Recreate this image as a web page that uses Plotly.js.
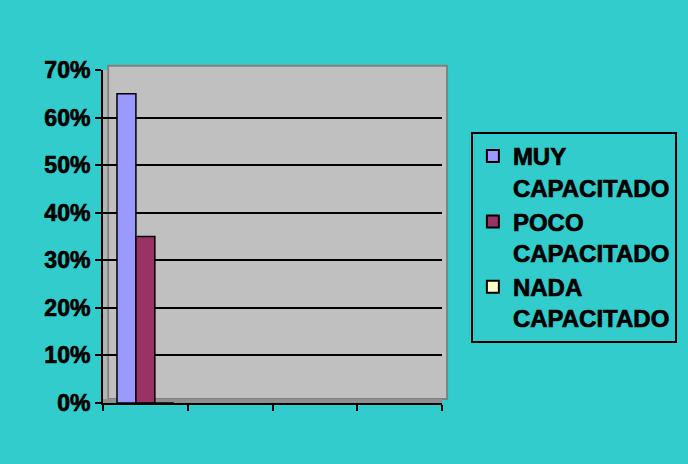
<!DOCTYPE html>
<html><head><meta charset="utf-8">
<script src="https://cdn.plot.ly/plotly-3.0.1.min.js"></script>
<style>
html,body{margin:0;padding:0;background:#33CCCC;}#chart{width:688px;height:464px;}
#chart .legendtext, #chart .ytick text { stroke:#000; stroke-width:0.7px; }
</style>
</head><body><div id="chart"></div>
<script>
const categories = ["1", "2", "3", "4"];
const seriesNames = ["MUY<br>CAPACITADO", "POCO<br>CAPACITADO", "NADA<br>CAPACITADO"];
const muyValues = [0.65, null, null, null];
const pocoValues = [0.35, null, null, null];
const nadaValues = [0.0, null, null, null];
const tickValues = [0, 0.1, 0.2, 0.3, 0.4, 0.5, 0.6, 0.7];
const tickLabels = ["0%", "10%", "20%", "30%", "40%", "50%", "60%", "70%"];

const colors = ["#9999FF", "#993366", "#FFFFCC"];
const seriesValues = [muyValues, pocoValues, nadaValues];
const traces = seriesValues.map((v, i) => ({
  type: "bar", x: categories, y: v, name: seriesNames[i],
  marker: {color: colors[i], line: {color: "#000000", width: 1.5}},
  hoverinfo: "skip"
}));

const FONT = "Liberation Sans, Arial, sans-serif";
const layout = {
  width: 688, height: 464,
  paper_bgcolor: "#33CCCC", plot_bgcolor: "#C0C0C0",
  margin: {l: 103, r: 245, t: 70, b: 61},
  barmode: "group", bargap: 0.33, bargroupgap: 0,
  font: {family: FONT, size: 22, color: "#000000", weight: "bold"},
  xaxis: {
    type: "category", showticklabels: false, tickson: "boundaries",
    ticks: "outside", ticklen: 6, tickwidth: 2, tickcolor: "#000",
    showline: true, linecolor: "#000", linewidth: 2, showgrid: false,
    range: [-0.5, 3.5], fixedrange: true
  },
  yaxis: {
    range: [0, 0.7], tickvals: tickValues, ticktext: tickLabels,
    ticks: "outside", ticklen: 6, tickwidth: 2, tickcolor: "#000",
    showline: true, linecolor: "#000", linewidth: 2,
    showgrid: true, gridcolor: "#000000", gridwidth: 2, zeroline: false,
    tickfont: {family: FONT, size: 23, color: "#000", weight: "bold"},
    fixedrange: true
  },
  legend: {
    x: 1.082, y: 0.814, xanchor: "left", yanchor: "top",
    bgcolor: "#33CCCC", bordercolor: "#000000", borderwidth: 2,
    font: {family: FONT, size: 24, color: "#000", weight: "bold"},
    itemsizing: "constant", valign: "top", itemwidth: 30
  },
  shapes: [
    {type: "rect", xref: "paper", yref: "paper", x0: 0.015, x1: 1.015, y0: 0.012, y1: 1.013,
     fillcolor: "#C0C0C0", line: {color: "#808080", width: 2}, layer: "below"},
    {type: "rect", xref: "paper", yref: "paper", x0: 0, x1: 0.015, y0: 0, y1: 1.0,
     fillcolor: "#B4B4B4", line: {width: 0}, layer: "below"},
    {type: "line", xref: "paper", yref: "paper", x0: 0.015, x1: 0.015, y0: 0.012, y1: 1.0,
     line: {color: "#808080", width: 1.5}, layer: "below"},
    {type: "rect", xref: "paper", yref: "paper", x0: 0, x1: 1.0, y0: 0, y1: 0.012,
     fillcolor: "#909090", line: {width: 0}, layer: "below"}
  ]
};
Plotly.newPlot("chart", traces, layout, {displayModeBar: false, staticPlot: true});
</script></body></html>
